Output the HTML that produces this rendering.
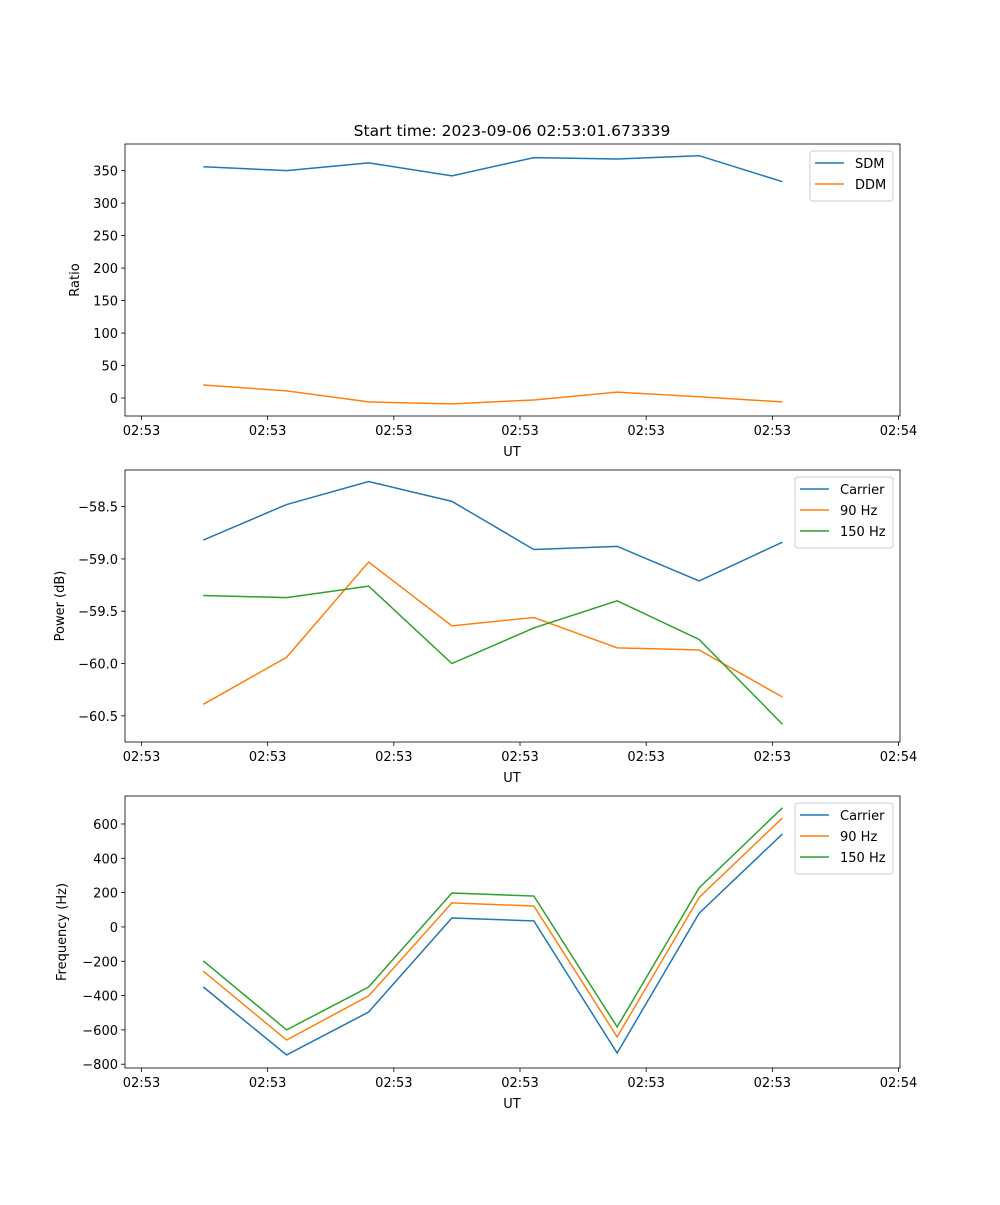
<!DOCTYPE html>
<html><head><meta charset="utf-8"><style>
html,body{margin:0;padding:0;background:#fff;}
svg text{font-family:"DejaVu Sans","Liberation Sans",sans-serif;font-size:13px;fill:#000;}
</style></head><body>
<svg id="fig" width="1000" height="1200" xmlns="http://www.w3.org/2000/svg">
<rect width="1000" height="1200" fill="#fff"/>
<text x="512" y="136" text-anchor="middle" style="font-size:15.5px">Start time: 2023-09-06 02:53:01.673339</text>
</svg>
<script>
// shared x data (seconds after 02:53:00)
const times = [4.9, 11.5, 18.0, 24.6, 31.1, 37.7, 44.2, 50.8];
const xTickVals = [0, 10, 20, 30, 40, 50, 60];
const xTickLabels = ["02:53","02:53","02:53","02:53","02:53","02:53","02:54"];
// panel 1
const sdm = [356, 350, 362, 342, 370, 368, 373, 333];
const ddm = [20, 11, -6, -9, -3, 9, 2, -6];
const yTicks1 = [0, 50, 100, 150, 200, 250, 300, 350];
// panel 2
const pCarrier = [-58.82, -58.48, -58.26, -58.45, -58.91, -58.88, -59.21, -58.84];
const p90 = [-60.39, -59.94, -59.03, -59.64, -59.56, -59.85, -59.87, -60.32];
const p150 = [-59.35, -59.37, -59.26, -60.0, -59.66, -59.40, -59.77, -60.58];
const yTicks2 = [-58.5, -59.0, -59.5, -60.0, -60.5];
// panel 3
const fCarrier = [-350, -746, -496, 52, 35, -735, 80, 542];
const f90 = [-258, -659, -402, 140, 122, -641, 172, 635];
const f150 = [-198, -600, -350, 198, 180, -583, 228, 694];
const yTicks3 = [-800, -600, -400, -200, 0, 200, 400, 600];

const NS="http://www.w3.org/2000/svg";
const svg=document.getElementById('fig');
function mk(tag,attrs,parent){const e=document.createElementNS(NS,tag);for(const k in attrs)e.setAttribute(k,attrs[k]);(parent||svg).appendChild(e);return e;}
const X0=125,X1=900;
const xs=t=>141.5+(t-0)*(898.5-141.5)/60;
const C={blue:"#1f77b4",orange:"#ff7f0e",green:"#2ca02c"};

function panel(id,top,ymin,ymax,yTicks,fmt,ylabel,series,legend){
  const bot=top+272;
  const ys=v=>bot-(v-ymin)/(ymax-ymin)*(bot-top);
  const g=mk('g',{});
  
  
  xTickVals.forEach((t,i)=>{
    const x=xs(t);
    const l=mk('line',{x1:x,x2:x,y1:bot,y2:bot+4,stroke:'#000','stroke-width':0.8},g);
    
    
    const tx=mk('text',{x:x,y:bot+19,'text-anchor':'middle'},g);
    tx.textContent=xTickLabels[i];
    
    
  });
  yTicks.forEach(v=>{
    const y=ys(v);
    const l=mk('line',{x1:X0-4,x2:X0,y1:y,y2:y,stroke:'#000','stroke-width':0.8},g);
    
    
    const tx=mk('text',{x:X0-7,y:y+5,'text-anchor':'end'},g);
    tx.textContent=fmt(v);
    
    
  });
  const xl=mk('text',{x:512,y:bot+40,'text-anchor':'middle'},g);
  xl.textContent='UT';
  
  
  const yl=mk('text',{x:0,y:0,'text-anchor':'middle',transform:`translate(${ylabel[1]},${(top+bot)/2}) rotate(-90)`},g);
  yl.textContent=ylabel[0];
  
  
  series.forEach(s=>{
    const p=mk('polyline',{points:s.d.map((v,i)=>xs(times[i])+','+ys(v)).join(' '),fill:'none',stroke:s.c,'stroke-width':1.5},g);
    
    
  });
  const fr=mk('rect',{x:X0,y:top,width:X1-X0,height:bot-top,fill:'none',stroke:'#000','stroke-width':0.8},g);
  
  
  // legend
  const lw=legend.w, lx=893-lw, ly=top+7, lh=8+series.length*21;
  const lg=mk('g',{},g);
  
  
  mk('rect',{x:lx,y:ly,width:lw,height:lh,rx:3,fill:'#fff','fill-opacity':0.8,stroke:'#ccc'},lg);
  series.forEach((s,i)=>{
    const y=ly+12+i*21;
    const e=mk('g',{},lg);
    
    
    mk('line',{x1:lx+5,x2:lx+34,y1:y,y2:y,stroke:s.c,'stroke-width':1.5},e);
    const t=mk('text',{x:lx+45,y:y+5},e);
    t.textContent=s.n;
  });
}
panel('ratio-panel',144,-27.7,391,yTicks1,v=>String(v),['Ratio',79],
  [{n:'SDM',d:sdm,c:C.blue},{n:'DDM',d:ddm,c:C.orange}],{w:83});
panel('power-panel',470,-60.75,-58.15,yTicks2,v=>v.toFixed(1).replace('-','\u2212'),['Power (dB)',64],
  [{n:'Carrier',d:pCarrier,c:C.blue},{n:'90 Hz',d:p90,c:C.orange},{n:'150 Hz',d:p150,c:C.green}],{w:98});
panel('frequency-panel',796,-822,763,yTicks3,v=>String(v).replace('-','\u2212'),['Frequency (Hz)',66],
  [{n:'Carrier',d:fCarrier,c:C.blue},{n:'90 Hz',d:f90,c:C.orange},{n:'150 Hz',d:f150,c:C.green}],{w:98});
</script>
</body></html>
